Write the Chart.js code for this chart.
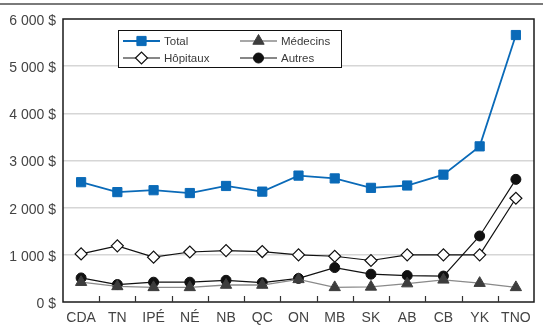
<!DOCTYPE html>
<html>
<head>
<meta charset="utf-8">
<script src="https://cdn.jsdelivr.net/npm/chart.js@4/dist/chart.umd.min.js"></script>
<style>
  html, body { margin: 0; padding: 0; background: #fff; }
  #wrap { width: 543px; height: 325px; position: relative; }
</style>
</head>
<body>
<div id="wrap"><canvas id="c" width="543" height="325"></canvas></div>
<script>
// Dépenses par habitant, par province et territoire
const provinces = ['CDA', 'TN', 'IPÉ', 'NÉ', 'NB', 'QC', 'ON', 'MB', 'SK', 'AB', 'CB', 'YK', 'TNO'];
const total    = [2540, 2330, 2370, 2310, 2460, 2340, 2680, 2620, 2420, 2470, 2700, 3300, 5660];
const medecins = [420, 330, 310, 310, 360, 360, 480, 310, 320, 390, 470, 400, 310];
const hopitaux = [1020, 1190, 950, 1060, 1090, 1070, 1000, 970, 880, 1000, 1000, 1000, 2200];
const autres   = [510, 370, 420, 420, 460, 410, 500, 730, 590, 560, 550, 1400, 2600];
const yTickValues = [0, 1000, 2000, 3000, 4000, 5000, 6000];
const legendLabels = ['Total', 'Médecins', 'Hôpitaux', 'Autres'];

const FONT = "'Liberation Sans', Arial, sans-serif";

function dollars(v) {
  return String(v).replace(/\B(?=(\d{3})+(?!\d))/g, ' ') + ' $';
}

// Thin grey rule across the top of the figure
const topRule = {
  id: 'topRule',
  beforeDraw(chart) {
    const ctx = chart.ctx;
    ctx.save();
    ctx.strokeStyle = '#7a7a7a';
    ctx.lineWidth = 2;
    ctx.beginPath();
    ctx.moveTo(0, 4);
    ctx.lineTo(chart.width, 4);
    ctx.stroke();
    ctx.restore();
  }
};

// Box around the plot area and short inward ticks between categories
const frame = {
  id: 'frame',
  afterDatasetsDraw(chart) {
    const { ctx, chartArea: a, scales: { x } } = chart;
    ctx.save();
    ctx.strokeStyle = '#1a1a1a';
    ctx.lineWidth = 1.5;
    ctx.strokeRect(a.left, a.top, a.right - a.left, a.bottom - a.top);
    ctx.lineWidth = 1.2;
    ctx.strokeStyle = '#333';
    ctx.beginPath();
    for (let i = 0; i < provinces.length - 1; i++) {
      const px = Math.round((x.getPixelForTick(i) + x.getPixelForTick(i + 1)) / 2) + 0.5;
      ctx.moveTo(px, a.bottom);
      ctx.lineTo(px, a.bottom - 6);
    }
    ctx.stroke();
    ctx.restore();
  }
};

// Two-column boxed legend inside the plot
const boxLegend = {
  id: 'boxLegend',
  afterDraw(chart) {
    const ctx = chart.ctx;
    const box = { x: 118.5, y: 30.5, w: 223, h: 37 };
    const slots = [
      { ds: 0, x: 123, y: 41 },
      { ds: 1, x: 240, y: 41 },
      { ds: 2, x: 123, y: 58 },
      { ds: 3, x: 240, y: 58 }
    ];
    ctx.save();
    ctx.fillStyle = '#fff';
    ctx.fillRect(box.x, box.y, box.w, box.h);
    ctx.strokeStyle = '#111';
    ctx.lineWidth = 1;
    ctx.strokeRect(box.x, box.y, box.w, box.h);
    slots.forEach(s => {
      const ds = chart.data.datasets[s.ds];
      ctx.strokeStyle = ds.borderColor;
      ctx.lineWidth = ds.borderWidth;
      ctx.beginPath();
      ctx.moveTo(s.x, s.y);
      ctx.lineTo(s.x + 37, s.y);
      ctx.stroke();
      ctx.fillStyle = ds.pointBackgroundColor;
      ctx.strokeStyle = ds.pointBorderColor;
      ctx.lineWidth = ds.pointBorderWidth;
      Chart.helpers.drawPoint(ctx, {
        pointStyle: ds.pointStyle,
        radius: ds.pointRadius,
        rotation: 0,
        borderWidth: ds.pointBorderWidth
      }, s.x + 18.5, s.y);
      ctx.fillStyle = '#3a3a3a';
      ctx.font = "11.5px " + FONT;
      ctx.textBaseline = 'middle';
      ctx.textAlign = 'left';
      ctx.fillText(legendLabels[s.ds], s.x + 41, s.y + 0.5);
    });
    ctx.restore();
  }
};

new Chart(document.getElementById('c'), {
  type: 'line',
  data: {
    labels: provinces,
    datasets: [
      {
        label: legendLabels[0], data: total,
        borderColor: '#0a6ab8', borderWidth: 1.8,
        pointStyle: 'rect', pointRadius: 6.5,
        pointBackgroundColor: '#0a6ab8', pointBorderColor: '#0a6ab8', pointBorderWidth: 1
      },
      {
        label: legendLabels[1], data: medecins,
        borderColor: '#8a8a8a', borderWidth: 1.3,
        pointStyle: 'triangle', pointRadius: 6.5,
        pointBackgroundColor: '#3d3d3d', pointBorderColor: '#3d3d3d', pointBorderWidth: 1
      },
      {
        label: legendLabels[2], data: hopitaux,
        borderColor: '#111', borderWidth: 1.2,
        pointStyle: 'rectRot', pointRadius: 6,
        pointBackgroundColor: '#fff', pointBorderColor: '#111', pointBorderWidth: 1.2
      },
      {
        label: legendLabels[3], data: autres,
        borderColor: '#111', borderWidth: 1.2,
        pointStyle: 'circle', pointRadius: 5,
        pointBackgroundColor: '#111', pointBorderColor: '#111', pointBorderWidth: 1
      }
    ]
  },
  options: {
    responsive: false,
    animation: false,
    devicePixelRatio: 1,
    layout: { padding: { top: 19, right: 9, left: 0, bottom: 0 } },
    plugins: {
      legend: { display: false },
      tooltip: { enabled: false }
    },
    elements: { line: { tension: 0 } },
    scales: {
      x: {
        offset: true,
        grid: { display: false, drawTicks: false },
        border: { display: false },
        ticks: {
          padding: 8,
          color: '#444',
          font: { family: FONT, size: 14 },
          maxRotation: 0, autoSkip: false
        },
        afterFit(s) { s.height = 23; }
      },
      y: {
        min: 0, max: 6000,
        afterBuildTicks(s) { s.ticks = yTickValues.map(v => ({ value: v })); },
        grid: {
          drawTicks: false,
          lineWidth: 1.5,
          color: ctx => (ctx.tick && (ctx.tick.value === 0 || ctx.tick.value === 6000)) ? 'rgba(0,0,0,0)' : '#d6d6d6'
        },
        border: { display: false },
        ticks: {
          padding: 7,
          labelOffset: 2,
          color: '#444',
          font: { family: FONT, size: 14 },
          callback: v => dollars(v)
        },
        afterFit(s) { s.width = 63; }
      }
    }
  },
  plugins: [topRule, frame, boxLegend]
});
</script>
</body>
</html>
